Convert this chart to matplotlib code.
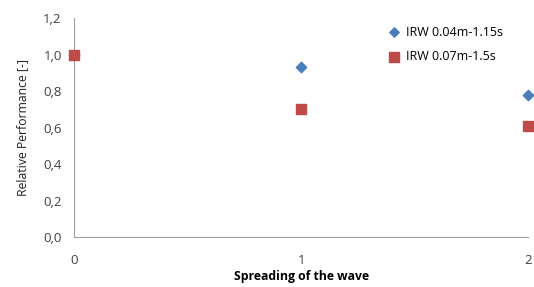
import matplotlib
matplotlib.use("Agg")
import matplotlib.pyplot as plt
from matplotlib.ticker import FuncFormatter

# Data
spreading = [0, 1, 2]
irw_004 = [1.0, 0.93, 0.78]
irw_007 = [1.0, 0.70, 0.61]
y_ticks = [0.0, 0.2, 0.4, 0.6, 0.8, 1.0, 1.2]

plt.rcParams['font.family'] = ['Open Sans', 'DejaVu Sans']

fig = plt.figure(figsize=(5.34, 2.87), dpi=100)
ax = fig.add_axes([0.139, 0.174, 0.850, 0.763])

ax.scatter(spreading, irw_004, marker='D', s=28, color='#4a7ebb', label='IRW 0.04m-1.15s', zorder=3)
ax.scatter(spreading, irw_007, marker='s', s=60, color='#be4b48', label='IRW 0.07m-1.5s', zorder=4)

ax.set_xlim(0, 2)
ax.set_ylim(0, 1.2)
ax.set_xticks(spreading)
ax.set_yticks(y_ticks)
ax.yaxis.set_major_formatter(FuncFormatter(lambda v, p: f"{v:.1f}".replace('.', ',')))
ax.tick_params(length=0, labelsize=9.5, colors='#404040', pad=9)
ax.tick_params(axis='x', pad=12)

for side in ['top', 'right']:
    ax.spines[side].set_visible(False)
for side in ['left', 'bottom']:
    ax.spines[side].set_color('#a0a0a0')
    ax.spines[side].set_linewidth(0.8)

ax.set_xlabel('Spreading of the wave', fontsize=8.8, fontweight='bold', labelpad=2)
ax.set_ylabel('Relative Performance [-]', fontsize=8.8, labelpad=10, color='#202020')

ax.legend(loc='upper left', bbox_to_anchor=(0.66, 1.0), frameon=False, fontsize=9,
          handletextpad=0.0, markerscale=0.9, borderaxespad=0.2, labelspacing=0.9)

for coll in ax.collections:
    coll.set_clip_on(False)

fig.savefig('out.png', dpi=100)
